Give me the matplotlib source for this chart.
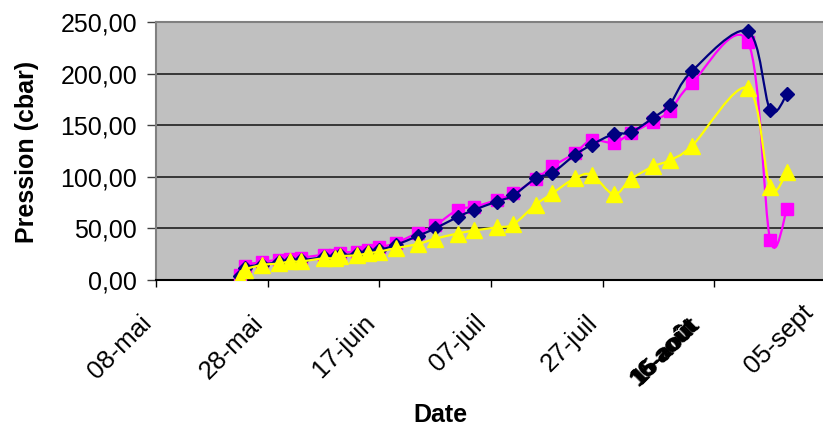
import matplotlib
matplotlib.use("Agg")
import matplotlib.pyplot as plt
from matplotlib.path import Path
from matplotlib.patches import PathPatch
from matplotlib.transforms import ScaledTranslation
from matplotlib.ticker import FuncFormatter
import numpy as np

plt.rcParams['font.family'] = ['Liberation Sans', 'DejaVu Sans']

# days counted from 08-mai
days = [15, 16, 19, 22, 24, 26, 30, 32, 33, 36, 38, 40, 43, 47, 50, 54, 57, 61,
        64, 68, 71, 75, 78, 82, 85, 89, 92, 96, 106, 110, 113]
blue = [4, 12, 15, 17, 18, 19, 22, 22, 24, 25, 27, 29, 34, 43, 50, 61, 68, 76,
        82, 98.5, 104, 121, 131, 141.5, 143, 157, 170, 202.5, 241, 165, 180]
magenta = [5, 14, 17.5, 19.5, 20.5, 21.5, 24.5, 24.5, 26.5, 27.5, 29.5, 31.5, 36,
           46, 53, 68, 71, 77.5, 84, 97.5, 110, 123, 135.5, 133, 142, 153.5, 164,
           191, 231, 39, 68.5]
yellow = [2, 10, 14.5, 16, 18, 18, 21, 21, 23, 24, 26, 27.5, 31, 35, 40, 45, 48,
          51, 54, 73, 84, 98.5, 102, 83, 97.5, 110, 116, 130, 186, 90, 105]

tick_days = [0, 20, 40, 60, 80, 100, 120]
tick_labels = ['08-mai', '28-mai', '17-juin', '07-juil', '27-juil', '', '']
yticks = [0, 50, 100, 150, 200, 250]

W, H = 823, 432
fig = plt.figure(figsize=(W / 100, H / 100), dpi=100)
fig.patch.set_facecolor('white')
L, R, T, B = 156, 826, 22, 280
ax = fig.add_axes([L / W, 1 - B / H, (R - L) / W, (B - T) / H])
ax.set_facecolor('#C0C0C0')


def smooth_path(x, y):
    pts = np.column_stack([x, y]).astype(float)
    n = len(pts)
    verts = [pts[0]]
    codes = [Path.MOVETO]
    for i in range(n - 1):
        p0 = pts[i - 1] if i > 0 else pts[i]
        p1 = pts[i]
        p2 = pts[i + 1]
        p3 = pts[i + 2] if i + 2 < n else pts[i + 1]
        c1 = p1 + (p2 - p0) / 6.0
        c2 = p2 - (p3 - p1) / 6.0
        verts += [c1, c2, p2]
        codes += [Path.CURVE4] * 3
    return Path(verts, codes)


series = [
    (magenta, '#FF00FF', 's', 8),
    (blue, '#000080', 'D', 7.5),
    (yellow, '#FFFF00', '^', 11),
]
for z, (vals, col, mk, ms) in enumerate(series):
    patch = PathPatch(smooth_path(days, vals), fill=False, edgecolor=col,
                      lw=1.6, zorder=3 + 2 * z, clip_on=True)
    ax.add_patch(patch)
    ax.plot(days, vals, linestyle='none', marker=mk, markersize=ms,
            markerfacecolor=col, markeredgecolor=col, zorder=4 + 2 * z)

ax.set_xlim(0, 120)
ax.set_ylim(0, 250)
ax.set_yticks(yticks)
ax.yaxis.set_major_formatter(FuncFormatter(lambda v, p: f"{v:.2f}".replace('.', ',')))
ax.set_xticks(tick_days)
ax.set_xticklabels(tick_labels, rotation=45, ha='right', fontsize=18.5)
for lab in ax.get_xticklabels():
    lab.set_transform(lab.get_transform() + ScaledTranslation(-10 / 100, 0, fig.dpi_scale_trans))

ax.tick_params(axis='y', direction='out', length=6.5, width=1, color='#404040',
               labelsize=18, pad=7)
ax.tick_params(axis='x', direction='out', length=5, width=1, color='black', pad=17)

for yv in yticks[1:-1]:
    ax.axhline(yv, color='#202020', lw=1.2, zorder=1)

ax.spines['top'].set_color('#808080')
ax.spines['top'].set_linewidth(1.5)
ax.spines['left'].set_color('#808080')
ax.spines['left'].set_linewidth(1.5)
ax.spines['bottom'].set_color('black')
ax.spines['bottom'].set_linewidth(1.5)
ax.spines['right'].set_visible(False)

# last tick label placed inside the figure
fig.text(818 / W, 1 - 300 / H, '05-sept', rotation=45, ha='right', va='top',
         fontsize=18.5)

# overdrawn "16-août" label
for dx, dy, txt in [(0, 0, '16-août'), (2, -1, '15-août'), (-1, 1, '16-août')]:
    fig.text((703 + dx) / W, 1 - (314 + dy) / H, txt, rotation=45, ha='right',
             va='top', fontsize=17, fontweight='bold', color='black')

fig.text(27 / W, 1 - 152 / H, 'Pression (cbar)', rotation=90, ha='center',
         va='center', fontsize=18, fontweight='bold')
fig.text(440 / W, 1 - 415 / H, 'Date', ha='center', va='center',
         fontsize=18, fontweight='bold')

fig.savefig('out.png', dpi=100)
